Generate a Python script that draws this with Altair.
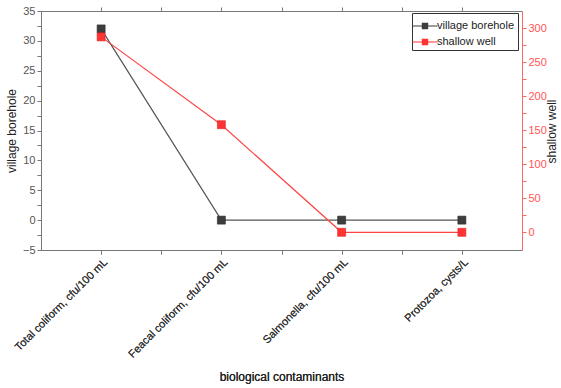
import altair as alt
import pandas as pd

# Biological contaminants measured in two water sources
categories = [
    "Total coliform, cfu/100 mL",
    "Feacal coliform, cfu/100 mL",
    "Salmonella, cfu/100 mL",
    "Protozoa, cysts/L",
]
village_borehole = [32, 0, 0, 0]
shallow_well = [287, 158, 0, 0]
series_names = ["village borehole", "shallow well"]
series_colors = ["#3d3d3d", "#ff3333"]

rows = []
for i, cat in enumerate(categories):
    rows.append({"pos": i + 1, "category": cat, "series": series_names[0], "value": village_borehole[i]})
    rows.append({"pos": i + 1, "category": cat, "series": series_names[1], "value": shallow_well[i]})
df = pd.DataFrame(rows)

FONT = "Liberation Sans"
cat_js = "[" + ",".join("'" + c + "'" for c in categories) + "]"
x_label_expr = f"datum.value % 1 == 0 ? {cat_js}[datum.value - 1] : ''"

x_scale = alt.Scale(domain=[0.5, 4.5], nice=False, zero=False)
color_scale = alt.Scale(domain=series_names, range=series_colors)

# legend symbol: short line with a square marker in the middle
legend_symbol = "M-1.25,-0.04H1.25V0.04H-1.25Z M-0.32,-0.32H0.32V0.32H-0.32Z"

color_enc = alt.Color(
    "series:N",
    scale=color_scale,
    legend=alt.Legend(
        title=None,
        orient="none",
        legendX=371,
        legendY=2,
        symbolType=legend_symbol,
        symbolSize=400,
        symbolStrokeWidth=0,
        labelFontSize=11,
        labelFont=FONT,
        labelColor="#222",
        labelOffset=2,
        strokeColor="#333",
        fillColor="white",
        padding=3,
        rowPadding=1,
    ),
)

bottom_x = alt.X(
    "pos:Q",
    scale=x_scale,
    title="biological contaminants",
    axis=alt.Axis(
        values=[1, 1.5, 2, 2.5, 3, 3.5, 4],
        labelExpr=x_label_expr,
        labelAngle=-45,
        labelFontSize=11,
        labelFont=FONT,
        labelColor="#333",
        titleFont=FONT,
        titleFontSize=12,
        titleFontWeight="normal",
        titleColor="#222",
        titlePadding=12,
        domainColor="#777",
        tickColor="#777",
        tickSize=4,
        grid=False,
    ),
)

left_y = alt.Y(
    "value:Q",
    scale=alt.Scale(domain=[-5, 35], nice=False, zero=False),
    title="village borehole",
    axis=alt.Axis(
        values=[-5 + 2.5 * k for k in range(17)],
        labelExpr="datum.value % 5 == 0 ? (datum.value < 0 ? '\u2212' + abs(datum.value) : datum.value) : ''",
        labelFontSize=11,
        labelFont=FONT,
        labelColor="#555",
        titleFont=FONT,
        titleFontSize=12,
        titleFontWeight="normal",
        titleColor="#222",
        domainColor="#777",
        tickColor="#777",
        tickSize=4,
        grid=False,
    ),
)

right_y = alt.Y(
    "value:Q",
    scale=alt.Scale(domain=[-26, 325], nice=False, zero=False),
    title="shallow well",
    axis=alt.Axis(
        orient="right",
        values=[25 * k for k in range(13)],
        labelExpr="datum.value % 50 == 0 ? datum.label : ''",
        labelFontSize=11,
        labelFont=FONT,
        labelColor="#ff5555",
        titleFont=FONT,
        titleFontSize=12,
        titleFontWeight="normal",
        titleColor="#222",
        titleAngle=270,
        titleAlign="center",
        titleBaseline="middle",
        titleX=29,
        titleY=120,
        domainColor="#ff6666",
        tickColor="#ff6666",
        tickSize=4,
        grid=False,
    ),
)

vb = alt.Chart(df).transform_filter(alt.datum.series == series_names[0])
sw = alt.Chart(df).transform_filter(alt.datum.series == series_names[1])

vb_layer = alt.layer(
    vb.mark_line(strokeWidth=1.2, color="#555555").encode(x=bottom_x, y=left_y, detail="series:N"),
    vb.mark_square(size=64, opacity=1, stroke="#2a2a2a", strokeWidth=0.6).encode(
        x=bottom_x, y=left_y, color=color_enc
    ),
)

top_axis = vb.mark_line(opacity=0).encode(
    x=alt.X(
        "pos:Q",
        scale=x_scale,
        axis=alt.Axis(
            orient="top",
            values=[1, 1.5, 2, 2.5, 3, 3.5, 4],
            labels=False,
            title=None,
            domainColor="#777",
            tickColor="#777",
            tickSize=4,
            grid=False,
        ),
    ),
    y=left_y,
)

sw_layer = alt.layer(
    sw.mark_line(strokeWidth=1.2, color="#ff4444").encode(x=bottom_x, y=right_y, detail="series:N"),
    sw.mark_square(size=64, opacity=1, stroke="#dd2222", strokeWidth=0.6).encode(
        x=bottom_x, y=right_y, color=color_enc
    ),
)

chart = (
    alt.layer(alt.layer(vb_layer, top_axis).resolve_axis(x="independent"), sw_layer)
    .resolve_scale(y="independent")
    .properties(
        width=481,
        height=239,
        padding={"left": 41, "top": 11, "right": 39, "bottom": 138},
        autosize=alt.AutoSizeParams(type="none"),
        background="white",
    )
    .configure_view(stroke=None)
)

chart.save("out.html", embed_options={"renderer": "svg", "actions": False})
